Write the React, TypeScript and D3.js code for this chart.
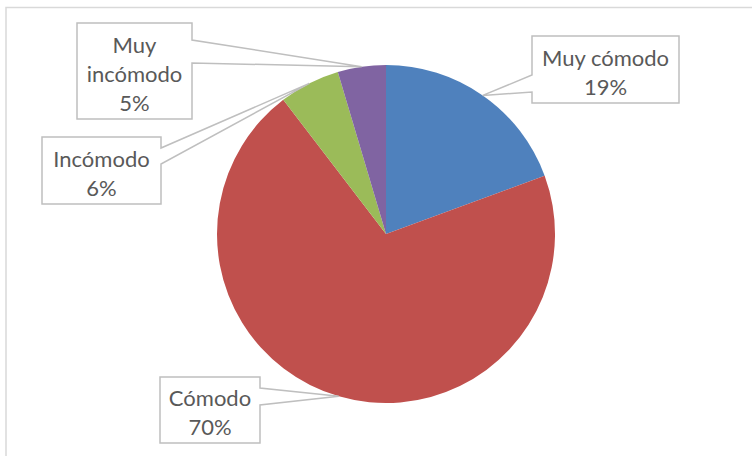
import React, { useMemo } from "react";
import * as d3 from "d3";

type Slice = { name: string; value: number };

// data
const categories = ["Muy cómodo", "Cómodo", "Incómodo", "Muy incómodo"];
const values = [19.4, 70.2, 5.8, 4.6];
const colors = ["#4f81bd", "#c0504d", "#9bbb59", "#8064a2"];

const WIDTH = 752;
const HEIGHT = 456;
const CX = 386;
const CY = 234;
const RADIUS = 169;

// callout boxes: x0,y0,x1,y1, which side the pointer leaves from, pointer base
const callouts = [
  { x0: 532, y0: 36, x1: 679, y1: 103, side: "left", b0: 75, b1: 92, wrap: false },
  { x0: 160, y0: 377, x1: 260, y1: 443, side: "right", b0: 388, b1: 405, wrap: false },
  { x0: 42, y0: 137, x1: 161, y1: 204, side: "right", b0: 148, b1: 164, wrap: false },
  { x0: 77, y0: 23, x1: 192, y1: 119, side: "right", b0: 40, b1: 63, wrap: true },
];

const LINE_H = 29;
const TEXT_DY = 2;

export default function App() {
  const data: Slice[] = categories.map((c, i) => ({ name: c, value: values[i] }));
  const total = d3.sum(values);

  const pie = useMemo(() => {
    return d3.pie<Slice>().sort(null).value((d) => d.value)(data);
  }, []);

  const arcGen = d3.arc<any>();

  return (
    <svg
      width={WIDTH}
      height={HEIGHT}
      style={{ position: "absolute", left: 0, top: 0, background: "#fff" }}
      fontFamily="Lato, 'Open Sans', sans-serif"
    >
      <rect x={6} y={7.5} width={WIDTH + 10} height={HEIGHT + 10} fill="#fff" stroke="#d9d9d9" strokeWidth={1.5} />
      <g transform={`translate(${CX}, ${CY})`}>
        {pie.map((p, i) => (
          <path
            key={i}
            d={arcGen({ innerRadius: 0, outerRadius: RADIUS, startAngle: p.startAngle, endAngle: p.endAngle }) || ""}
            fill={colors[i]}
          />
        ))}
      </g>
      {pie.map((p, i) => {
        const b = callouts[i];
        const tip = arcGen.centroid({
          innerRadius: RADIUS,
          outerRadius: RADIUS,
          startAngle: p.startAngle,
          endAngle: p.endAngle,
        });
        const tx = tip[0] + CX;
        const ty = tip[1] + CY;
        let d = "";
        if (b.side === "right") {
          d = `M${b.x0},${b.y0}L${b.x1},${b.y0}L${b.x1},${b.b0}L${tx},${ty}L${b.x1},${b.b1}L${b.x1},${b.y1}L${b.x0},${b.y1}Z`;
        } else {
          d = `M${b.x0},${b.y0}L${b.x1},${b.y0}L${b.x1},${b.y1}L${b.x0},${b.y1}L${b.x0},${b.b1}L${tx},${ty}L${b.x0},${b.b0}Z`;
        }
        const pct = Math.round((p.data.value / total) * 100) + "%";
        const lines = (b.wrap ? p.data.name.split(" ") : [p.data.name]).concat([pct]);
        const midX = (b.x0 + b.x1) / 2;
        const midY = (b.y0 + b.y1) / 2 + TEXT_DY;
        const startY = midY - ((lines.length - 1) * LINE_H) / 2;
        return (
          <g key={i}>
            <path d={d} fill="#fff" stroke="#bfbfbf" strokeWidth={1.5} />
            {lines.map((t, j) => (
              <text
                key={j}
                x={midX}
                y={startY + j * LINE_H}
                textAnchor="middle"
                dominantBaseline="central"
                fontSize={22}
                fill="#595959"
              >
                {t}
              </text>
            ))}
          </g>
        );
      })}
    </svg>
  );
}
